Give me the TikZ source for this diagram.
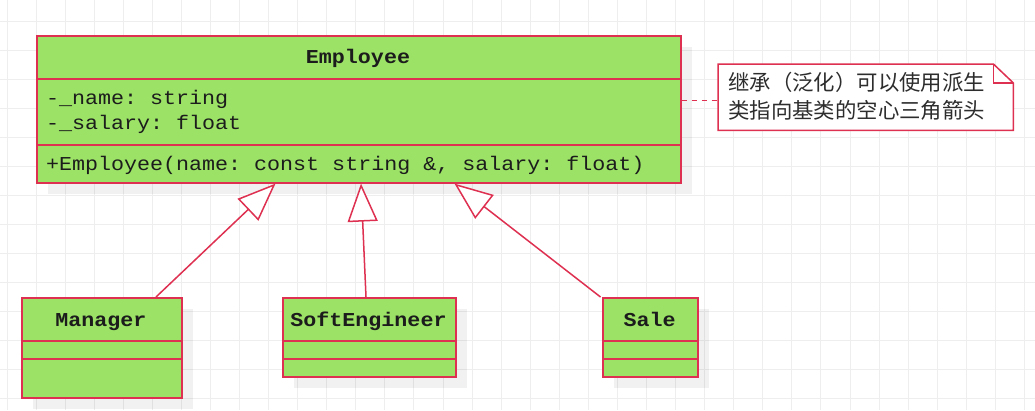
\documentclass[tikz,border=0pt]{standalone}
\usepackage{fontspec}
\usetikzlibrary{arrows.meta,calc}
\newfontfamily\umlmono[FakeStretch=1.1]{Liberation Mono}
\newfontfamily\cjk{Noto Sans CJK SC}
\definecolor{umlgreen}{RGB}{155,226,102}
\definecolor{umlred}{RGB}{222,48,80}
\definecolor{gridc}{RGB}{238,238,238}
\definecolor{txtc}{RGB}{28,28,28}
\definecolor{notetxt}{RGB}{45,45,45}
\tikzset{
  gridline/.style={draw=gridc, line width=1pt},
  shadowbox/.style={fill=black, opacity=0.055},
  umlclass/.style={draw=umlred, fill=umlgreen, line width=1.6pt, inner sep=0pt, anchor=north west},
  sepline/.style={draw=umlred, line width=1.6pt},
  clsname/.style={font=\umlmono\bfseries\fontsize{19.7}{24}\selectfont\frenchspacing, text=txtc, anchor=base, inner sep=0pt},
  member/.style={font=\umlmono\fontsize{19.7}{24}\selectfont\frenchspacing, text=txtc, anchor=base west, inner sep=0pt},
  inherit/.style={draw=umlred, line width=1.5pt, -{Triangle[length=38pt,width=30pt,fill=white]}},
  notebox/.style={draw=umlred, fill=white, line width=1.5pt},
  notetext/.style={font=\cjk\fontsize{21.4}{28}\selectfont, text=notetxt, anchor=base west, inner sep=0pt},
  dashline/.style={draw=umlred, line width=1.5pt, dash pattern=on 5pt off 5pt}
}
\begin{document}
\begin{tikzpicture}[x=1pt,y=-1pt]
\useasboundingbox (0,0) rectangle (1035,410);
\fill[white] (0,0) rectangle (1035,410);
% grid
\foreach \k in {0,...,35} \draw[gridline] ({7+29.07*\k},0) -- ({7+29.07*\k},410);
\foreach \k in {0,...,13} \draw[gridline] (0,{21+29.07*\k}) -- (1035,{21+29.07*\k});
% shadows
\fill[shadowbox] (48,47) rectangle (692,194);
\fill[shadowbox] (33,309) rectangle (193,409);
\fill[shadowbox] (294,309) rectangle (467,388);
\fill[shadowbox] (614,309) rectangle (709,388);
% Employee
\node[umlclass, minimum width=644pt, minimum height=147pt] (emp) at (36,35) {};
\draw[sepline] ($(emp.north west)+(0,44)$) -- ($(emp.north east)+(0,44)$);
\draw[sepline] ($(emp.north west)+(0,110)$) -- ($(emp.north east)+(0,110)$);
\node[clsname] (empname) at (358,63) {Employee};
\node[member] (empa1) at (46,104.5) {-\_name: string};
\node[member] (empa2) at (46,129) {-\_salary: float};
\node[member] (empm1) at (46,170) {+Employee(name: const string \&, salary: float)};
% Manager
\node[umlclass, minimum width=160pt, minimum height=100pt] (mgr) at (21,297) {};
\draw[sepline] ($(mgr.north west)+(0,44)$) -- ($(mgr.north east)+(0,44)$);
\draw[sepline] ($(mgr.north west)+(0,62)$) -- ($(mgr.north east)+(0,62)$);
\node[clsname] (mgrname) at (101,326) {Manager};
% SoftEngineer
\node[umlclass, minimum width=173pt, minimum height=79pt] (soft) at (282,297) {};
\draw[sepline] ($(soft.north west)+(0,44)$) -- ($(soft.north east)+(0,44)$);
\draw[sepline] ($(soft.north west)+(0,62)$) -- ($(soft.north east)+(0,62)$);
\node[clsname] (softname) at (368.5,326) {SoftEngineer};
% Sale
\node[umlclass, minimum width=95pt, minimum height=79pt] (sale) at (602,297) {};
\draw[sepline] ($(sale.north west)+(0,44)$) -- ($(sale.north east)+(0,44)$);
\draw[sepline] ($(sale.north west)+(0,62)$) -- ($(sale.north east)+(0,62)$);
\node[clsname] (salename) at (649.5,326) {Sale};
% inheritance connectors
\coordinate (mgrout) at ($(mgr.north west)+(135,0)$);
\coordinate (softout) at ($(soft.north west)+(84,0)$);
\coordinate (saleout) at ($(sale.north west)+(-1.5,0)$);
\coordinate (empin1) at ($(emp.south west)+(239.5,0)$);
\coordinate (empin2) at ($(emp.south west)+(325,0)$);
\coordinate (empin3) at ($(emp.south west)+(418.5,0)$);
\draw[inherit] (mgrout) -- (empin1);
\draw[inherit] (softout) -- (empin2);
\draw[inherit] (saleout) -- (empin3);
% note
\node[inner sep=0pt, minimum width=295pt, minimum height=66pt, anchor=north west] (note) at (718,64) {};
\draw[notebox] (note.north west) -- ($(note.north east)+(-20,0)$) -- ($(note.north east)+(0,19)$) -- (note.south east) -- (note.south west) -- cycle;
\draw[notebox, fill=none] ($(note.north east)+(-20,0)$) -- ($(note.north east)+(-20,19)$) -- ($(note.north east)+(0,19)$);
\node[notetext] (nt1) at (728,90) {继承（泛化）可以使用派生};
\node[notetext] (nt2) at (728,118) {类指向基类的空心三角箭头};
% dashed link
\coordinate (dashstart) at ($(emp.north east)+(0,65.5)$);
\coordinate (dashend) at ($(note.north west)+(0,36.5)$);
\draw[dashline] (dashstart) -- (dashend);
\end{tikzpicture}
\end{document}
